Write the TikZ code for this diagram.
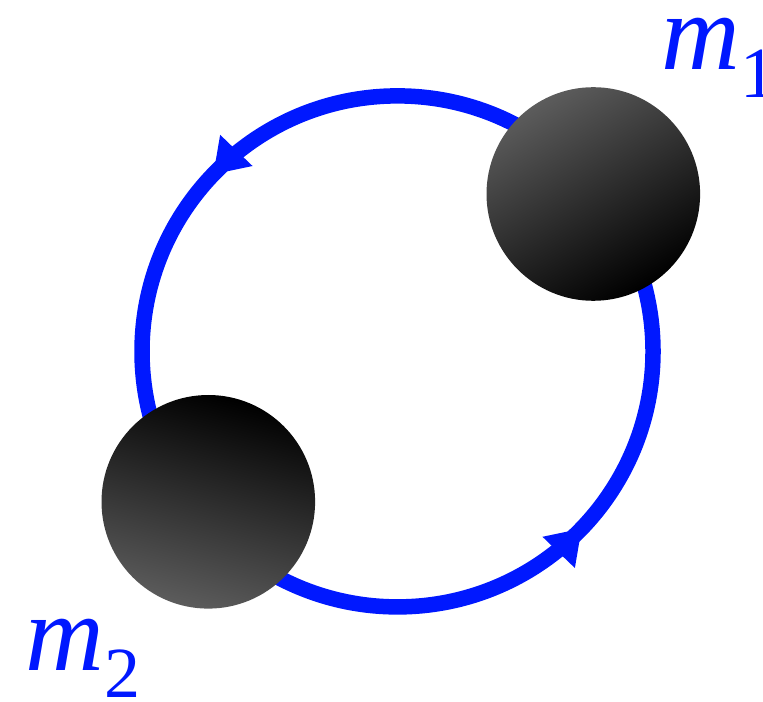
\documentclass[tikz,border=0pt]{standalone}
\usepackage{fontspec}
\setmainfont{Liberation Serif}
\usetikzlibrary{arrows.meta, decorations.markings}
\definecolor{orbitblue}{RGB}{0,24,255}
\newcommand{\massname}[1]{\textit{m}\raisebox{-0.25em}{\fontsize{36}{40}\selectfont #1}}

\begin{document}
\begin{tikzpicture}[
	x=0.5pt, y=0.5pt,
	>=Triangle,
	% Style for the orbit line with two direction arrows
	orbit/.style={line width=7.75pt, draw=orbitblue,
		postaction={decorate},
		decoration={markings,
			mark=at position 0.378 with {\arrow[orbitblue, line width=0pt]{Triangle[length=16.5pt, width=22.5pt]}},
			mark=at position 0.878 with {\arrow[orbitblue, line width=0pt]{Triangle[length=16.5pt, width=22.5pt]}}
	}},
	% Style for the masses
	mass/.style={circle, minimum size=106.8pt, inner sep=0pt, bottom color=black},
	% Style for the mass labels
	masslabel/.style={text=orbitblue, inner sep=0pt, anchor=base west, font=\fontsize{54.5}{60}\selectfont}
	]
	\useasboundingbox (0,0) rectangle (763,701);
	
	% 1. Orbit
	\coordinate (centre) at (397.5,349.6);
	\draw[orbit] (centre) circle[radius=255.5];
	
	% 2. Masses
	\node[mass, top color=black!64, shading angle=30] (m1) at (593.3,507) {};
	\node[mass, top color=black!64, shading angle=165] (m2) at (208.3,199.2) {};
	
	% 3. Labels
	\node[masslabel] (m1label) at (661,631) {\massname{1}};
	\node[masslabel] (m2label) at (25,31) {\massname{2}};
	
\end{tikzpicture}
\end{document}
